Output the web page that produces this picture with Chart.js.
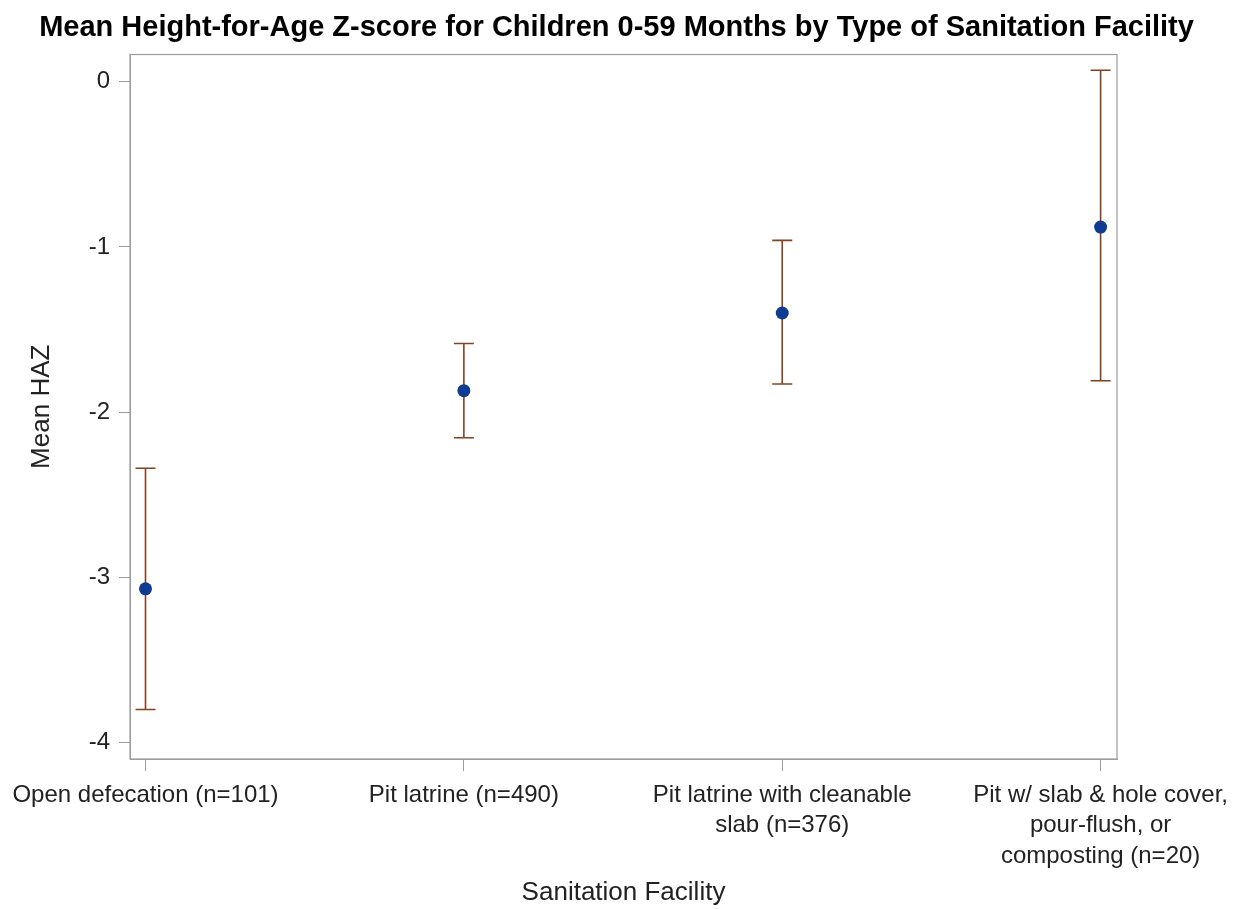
<!DOCTYPE html>
<html>
<head>
<meta charset="utf-8">
<script src="https://cdn.jsdelivr.net/npm/chart.js@4/dist/chart.umd.min.js"></script>
<style>
  html, body { margin: 0; padding: 0; background: #ffffff; }
  #wrap { width: 1233px; height: 909px; }
</style>
</head>
<body>
<div id="wrap"><canvas id="c" width="1233" height="909"></canvas></div>
<script>
// ---- data ----
const categories = [
  ["Open defecation (n=101)"],
  ["Pit latrine (n=490)"],
  ["Pit latrine with cleanable", "slab (n=376)"],
  ["Pit w/ slab & hole cover,", "pour-flush, or", "composting (n=20)"]
];
const meanHAZ  = [-3.07, -1.87, -1.40, -0.88];
const upperCI  = [-2.34, -1.585, -0.96, 0.07];
const lowerCI  = [-3.80, -2.155, -1.83, -1.81];
const yTicks   = [-4, -3, -2, -1, 0];

const titleText = "Mean Height-for-Age Z-score for Children 0-59 Months by Type of Sanitation Facility";
const xTitle = "Sanitation Facility";
const yTitle = "Mean HAZ";

const FONT = "'Liberation Sans', Arial, Helvetica, sans-serif";
const frameColor = '#9c9c9c';
const errColor = '#83421f';
const dotColor = '#0f3c92';

const errorBarPlugin = {
  id: 'errorBars',
  beforeDatasetsDraw(chart) {
    const ctx = chart.ctx;
    const xs = chart.scales.x, ys = chart.scales.y;
    ctx.save();
    ctx.strokeStyle = errColor;
    ctx.lineWidth = 1.6;
    const half = 10;
    for (let i = 0; i < meanHAZ.length; i++) {
      const px = xs.getPixelForValue(i);
      const pu = ys.getPixelForValue(upperCI[i]);
      const pl = ys.getPixelForValue(lowerCI[i]);
      ctx.beginPath();
      ctx.moveTo(px, pu); ctx.lineTo(px, pl);
      ctx.moveTo(px - half, pu); ctx.lineTo(px + half, pu);
      ctx.moveTo(px - half, pl); ctx.lineTo(px + half, pl);
      ctx.stroke();
    }
    ctx.restore();
  }
};

const framePlugin = {
  id: 'frame',
  afterDraw(chart) {
    const a = chart.chartArea, ctx = chart.ctx;
    ctx.save();
    ctx.strokeStyle = frameColor;
    ctx.lineWidth = 1.2;
    ctx.strokeRect(a.left, a.top, a.right - a.left, a.bottom - a.top);
    ctx.restore();
  }
};

const bgPlugin = {
  id: 'bg',
  beforeDraw(chart) {
    const ctx = chart.ctx;
    ctx.save();
    ctx.fillStyle = '#ffffff';
    ctx.fillRect(0, 0, chart.width, chart.height);
    ctx.restore();
  }
};

new Chart(document.getElementById('c'), {
  type: 'scatter',
  data: {
    datasets: [{
      label: 'Mean HAZ',
      data: meanHAZ.map((v, i) => ({ x: i, y: v })),
      backgroundColor: dotColor,
      borderColor: dotColor,
      pointRadius: 6.5,
      pointHoverRadius: 6.5,
      borderWidth: 0
    }]
  },
  options: {
    responsive: false,
    animation: false,
    layout: { padding: { left: 0, right: 0, top: 0, bottom: 0 } },
    plugins: {
      legend: { display: false },
      tooltip: { enabled: false },
      title: {
        display: true,
        text: titleText,
        color: '#000000',
        font: { family: FONT, size: 29, weight: 'bold', lineHeight: 1.2 },
        padding: { top: 10.6, bottom: 9.1 }
      }
    },
    scales: {
      x: {
        type: 'linear',
        min: -0.0487,
        max: 3.0515,
        afterBuildTicks(scale) { scale.ticks = categories.map((_, i) => ({ value: i })); },
        afterFit(scale) {
          scale.height = 909 - 759;
          scale.paddingLeft = 0;
          scale.paddingRight = 0;
        },
        ticks: {
          callback: (v) => categories[v] || '',
          color: '#222222',
          font: { family: FONT, size: 24, lineHeight: 1.27 },
          padding: 9,
          maxRotation: 0,
          autoSkip: false
        },
        grid: { drawOnChartArea: false, drawTicks: true, tickLength: 12, tickColor: frameColor },
        border: { display: true, color: frameColor },
        title: {
          display: true,
          text: xTitle,
          color: '#222222',
          font: { family: FONT, size: 26, lineHeight: 1.2 },
          padding: { top: 0, bottom: 0.4 }
        }
      },
      y: {
        type: 'linear',
        min: -4.1,
        max: 0.165,
        afterBuildTicks(scale) { scale.ticks = yTicks.map(v => ({ value: v })); },
        afterFit(scale) { scale.width = 130; },
        ticks: {
          callback: (v) => String(v),
          color: '#222222',
          font: { family: FONT, size: 24 },
          padding: 9
        },
        grid: { drawOnChartArea: false, drawTicks: true, tickLength: 11, tickColor: frameColor },
        border: { display: true, color: frameColor },
        title: {
          display: true,
          text: yTitle,
          color: '#222222',
          font: { family: FONT, size: 26, lineHeight: 1.2 },
          padding: { top: 26.4, bottom: 0 }
        }
      },
      spacer: {
        type: 'linear',
        position: 'right',
        display: true,
        afterFit(scale) { scale.width = 116; },
        ticks: { display: false },
        grid: { display: false, drawTicks: false },
        border: { display: false }
      }
    }
  },
  plugins: [bgPlugin, errorBarPlugin, framePlugin]
});
</script>
</body>
</html>
